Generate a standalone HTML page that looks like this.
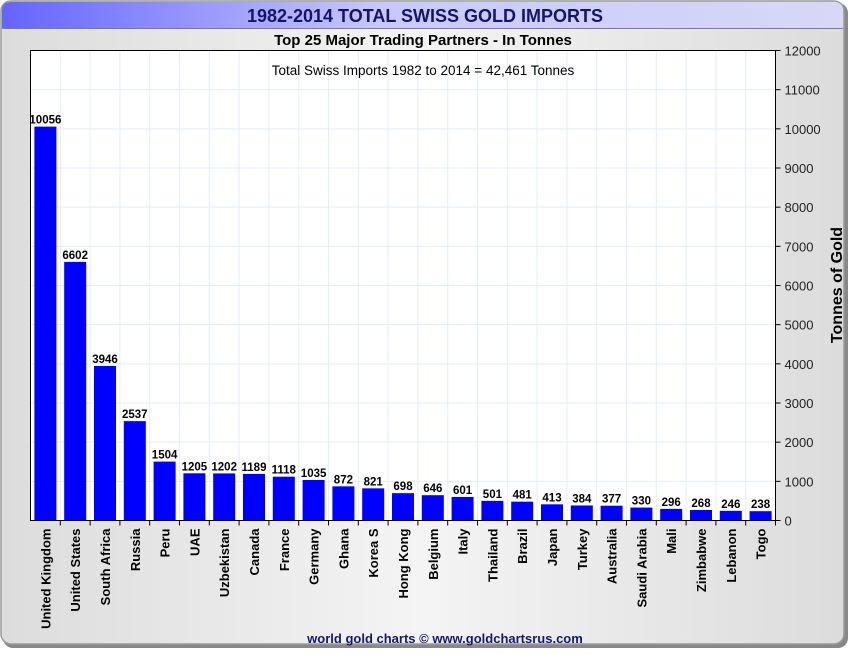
<!DOCTYPE html>
<html><head><meta charset="utf-8"><style>
body{margin:0;width:850px;height:650px;background:#fff;font-family:"Liberation Sans",Arial,sans-serif;overflow:hidden}
</style></head><body>
<svg id="chart" width="850" height="650" xmlns="http://www.w3.org/2000/svg">
<defs>
<linearGradient id="bg" x1="0" x2="1" y1="0" y2="0"><stop offset="0" stop-color="#dcdcdc"/><stop offset="0.5" stop-color="#f4f4f4"/><stop offset="1" stop-color="#dcdcdc"/></linearGradient>
<linearGradient id="tb" x1="0" x2="1" y1="0" y2="0"><stop offset="0" stop-color="#6464ff"/><stop offset="0.45" stop-color="#c8c8ff"/><stop offset="1" stop-color="#d8d8f4"/></linearGradient>
</defs>
<rect x="3" y="3" width="845" height="645" rx="10" fill="#888"/>
<rect x="1" y="1" width="843" height="643" rx="10" fill="url(#bg)" stroke="#9a9a9a" stroke-width="1.5"/>
<path d="M2,28 L2,11 Q2,2 11,2 L834,2 Q843,2 843,11 L843,28 Z" fill="url(#tb)"/>
<line x1="2" y1="28.5" x2="843" y2="28.5" stroke="#7777aa"/>
<text x="425" y="22" text-anchor="middle" font-size="18" font-weight="bold" fill="#141470">1982-2014 TOTAL SWISS GOLD IMPORTS</text>
<text x="423" y="45" text-anchor="middle" font-size="15" font-weight="bold" fill="#000">Top 25 Major Trading Partners - In Tonnes</text>
<rect x="30.5" y="50.5" width="745" height="470" fill="#fff"/>
<g id="grid"></g>
<g id="bars"></g>
<rect x="30.5" y="50.5" width="745" height="470" fill="none" stroke="#000"/>
<g id="axes"></g>
<text x="423" y="75" text-anchor="middle" font-size="13.5" fill="#000">Total Swiss Imports 1982 to 2014 = 42,461 Tonnes</text>
<text transform="translate(842,285) rotate(-90)" text-anchor="middle" font-size="16" font-weight="bold" fill="#000">Tonnes of Gold</text>
<text x="445" y="643" text-anchor="middle" font-size="13" font-weight="bold" fill="#141480">world gold charts © www.goldchartsrus.com</text>
</svg>
<script>
const categories=["United Kingdom","United States","South Africa","Russia","Peru","UAE","Uzbekistan","Canada","France","Germany","Ghana","Korea S","Hong Kong","Belgium","Italy","Thailand","Brazil","Japan","Turkey","Australia","Saudi Arabia","Mali","Zimbabwe","Lebanon","Togo"];
const values=[10056,6602,3946,2537,1504,1205,1202,1189,1118,1035,872,821,698,646,601,501,481,413,384,377,330,296,268,246,238];
const yTicks=[0,1000,2000,3000,4000,5000,6000,7000,8000,9000,10000,11000,12000];
const NS="http://www.w3.org/2000/svg";
const L=30.5,R=775.5,T=50.5,B=520.5,YMAX=12000;
const step=(R-L)/categories.length;
const y=v=>B-(v/YMAX)*(B-T);
const xc=i=>L+step*(i+0.5);
function mk(tag,attrs,parent){const e=document.createElementNS(NS,tag);for(const k in attrs)e.setAttribute(k,attrs[k]);parent.appendChild(e);return e;}
const grid=document.getElementById('grid'),bars=document.getElementById('bars'),axes=document.getElementById('axes');
yTicks.forEach(t=>{
  const g=mk('line',{x1:L,x2:R,y1:y(t),y2:y(t),stroke:'#e2eef8'},grid);
  
  
  const tk=mk('line',{x1:R,x2:R+5,y1:y(t),y2:y(t),stroke:'#000'},axes);
  
  
  const lb=mk('text',{x:R+9,y:y(t)+5,'font-size':13,fill:'#222'},axes);
  lb.textContent=t;
  
  
});
categories.forEach((c,i)=>{
  const xb=L+step*(i+1);
  if(i<categories.length-1){
    const g=mk('line',{x1:xb,x2:xb,y1:T,y2:B,stroke:'#e2eef8'},grid);
    
    
  }
  const tk=mk('line',{x1:xb,x2:xb,y1:B,y2:B+5,stroke:'#000'},axes);
  
  
  const w=22;
  const b=mk('rect',{x:xc(i)-w/2,y:y(values[i]),width:w,height:B-y(values[i]),fill:'#0000ff'},bars);
  
  
  const v=mk('text',{x:xc(i),y:y(values[i])-3,'text-anchor':'middle','font-size':11.5,'font-weight':'bold',fill:'#000'},bars);
  v.textContent=values[i];
  
  
  const lb=mk('text',{transform:`translate(${xc(i)+5},${B+8}) rotate(-90)`,'text-anchor':'end','font-size':13,'font-weight':'bold',fill:'#000'},axes);
  lb.textContent=c;
  
  
});
</script>
</body></html>
